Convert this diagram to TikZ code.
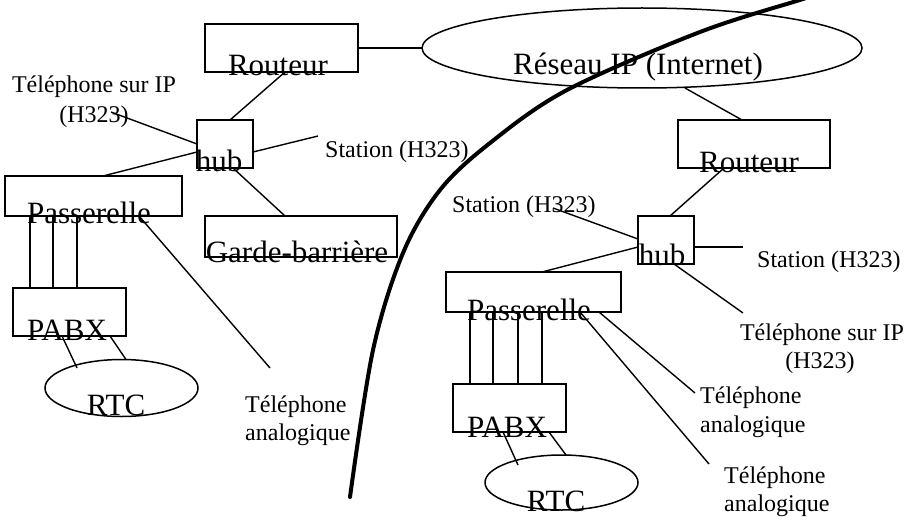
\documentclass[tikz,border=0pt]{standalone}
\usepackage{fontspec}
\setmainfont{Liberation Serif}
\usetikzlibrary{shapes.geometric}
\begin{document}
\begin{tikzpicture}[x=1pt,y=-1pt,
  box/.style={draw,line width=1.5pt,rectangle,inner sep=0pt,outer sep=0pt},
  oval/.style={draw,line width=1.5pt,ellipse,inner sep=0pt,outer sep=0pt},
  big/.style={inner sep=0pt,anchor=base,font=\fontsize{31}{36}\selectfont},
  small/.style={inner sep=0pt,anchor=base,font=\fontsize{24}{28}\selectfont},
  smallw/.style={small,anchor=base west},
  wire/.style={line width=1.4pt},
  frontier/.style={line width=4pt,line cap=round}]
\useasboundingbox (0,0) rectangle (909,516);
% boxes
\node[box,minimum width=153pt,minimum height=48pt] (rl) at (281.5,48) {};
\node[oval,minimum width=440pt,minimum height=80pt] (ip) at (642,48) {};
\node[box,minimum width=56pt,minimum height=48pt] (hl) at (225,144) {};
\node[box,minimum width=177pt,minimum height=40pt] (pl) at (93.5,196) {};
\node[box,minimum width=192pt,minimum height=41pt] (gb) at (301,236.5) {};
\node[box,minimum width=113pt,minimum height=48pt] (xl) at (69.5,312) {};
\node[oval,minimum width=153pt,minimum height=57pt] (tl) at (121.5,388) {};
\node[box,minimum width=152pt,minimum height=48pt] (rr) at (754,144) {};
\node[box,minimum width=56pt,minimum height=48pt] (hr) at (666,240) {};
\node[box,minimum width=175pt,minimum height=40pt] (pr) at (533.5,292) {};
\node[box,minimum width=113pt,minimum height=48pt] (xr) at (509.5,408) {};
\node[oval,minimum width=153pt,minimum height=55pt] (tr) at (561.5,482.5) {};
% big texts
\node[big] (trl) at (278,76) {Routeur};
\node[big] (tip) at (638,75) {Réseau IP (Internet)};
\node[big] (thl) at (219,171) {hub};
\node[big] (tpl) at (89,223) {Passerelle};
\node[big] (tgb) at (297,262) {Garde-barrière};
\node[big] (txl) at (67,340) {PABX};
\node[big] (ttl) at (116,415) {RTC};
\node[big] (trr) at (749,172) {Routeur};
\node[big] (thr) at (662,265) {hub};
\node[big] (tpr) at (529,320) {Passerelle};
\node[big] (txr) at (507,437) {PABX};
\node[big] (ttr) at (556,511) {RTC};
% small texts
\node[small] (phLa) at (94,93) {Téléphone sur IP};
\node[small] (phLb) at (94,122) {(H323)};
\node[smallw] (stL) at (325,157) {Station (H323)};
\node[smallw] (taLa) at (245,412) {Téléphone};
\node[smallw] (taLb) at (245,440) {analogique};
\node[smallw] (stRa) at (452,212) {Station (H323)};
\node[smallw] (stRb) at (757,267) {Station (H323)};
\node[small] (phRa) at (822,340) {Téléphone sur IP};
\node[small] (phRb) at (820,368) {(H323)};
\node[smallw] (taRa) at (700,403) {Téléphone};
\node[smallw] (taRb) at (700,432) {analogique};
\node[smallw] (taRc) at (724,483) {Téléphone};
\node[smallw] (taRd) at (724,511) {analogique};
% free ends
\coordinate (cPhL) at (111,112);
\coordinate (cStL) at (318,136);
\coordinate (cTaL) at (270,368);
\coordinate (cStRa) at (553,208);
\coordinate (cStRb) at (743,247);
\coordinate (cPhR) at (743,313);
\coordinate (cTaR1) at (695,393);
\coordinate (cTaR2) at (709,464);
% left connectors
\draw[wire] (rl.east) -- (ip.west);
\draw[wire] ([xshift=3.5pt]rl.south) -- ([xshift=5pt]hl.north);
\draw[wire] (cPhL) -- (hl.west);
\draw[wire] ([yshift=-8pt]hl.east) -- (cStL);
\draw[wire] ([xshift=9.5pt]pl.north) -- ([yshift=-8pt]hl.west);
\draw[wire] ([xshift=8pt]hl.south) -- ([xshift=-16pt]gb.north);
\foreach \d in {17,40,64}
  \draw[wire] ([xshift=\d pt]xl.north west) -- ([xshift=\d pt]xl.north west |- pl.south);
\draw[wire] ([xshift=-7.5pt]xl.south) -- ([shift={(-44.5pt,20pt)}]tl.center);
\draw[wire] ([xshift=40.5pt]xl.south) -- ([xshift=4.5pt]tl.north);
\draw[wire] ([xshift=45.5pt]pl.south) -- (cTaL);
% right connectors
\draw[wire] ([xshift=43pt]ip.south) -- ([xshift=-12pt]rr.north);
\draw[wire] ([xshift=-30pt]rr.south) -- ([xshift=4pt]hr.north);
\draw[wire] (cStRa) -- ([yshift=1pt]hr.west);
\draw[wire] ([yshift=-7pt]hr.east) -- (cStRb);
\draw[wire] ([xshift=8.5pt]pr.north) -- ([yshift=-7pt]hr.west);
\draw[wire] ([xshift=8pt]hr.south) -- (cPhR);
\foreach \d in {17,40,65,89}
  \draw[wire] ([xshift=\d pt]xr.north west) -- ([xshift=\d pt]xr.north west |- pr.south);
\draw[wire] ([xshift=-6.5pt]xr.south) -- ([shift={(-43.5pt,17.5pt)}]tr.center);
\draw[wire] ([xshift=39.5pt]xr.south) -- ([xshift=4.5pt]tr.north);
\draw[wire] ([xshift=65.5pt]pr.south) -- (cTaR1);
\draw[wire] ([xshift=46.5pt]pr.south) -- (cTaR2);
% frontier curve
\draw[frontier] plot[smooth,tension=0.55] coordinates {(350,497) (373,350) (403,253) (440,190) (490,143) (567,90) (700,32) (803,-1) (830,-10)};
\end{tikzpicture}
\end{document}
